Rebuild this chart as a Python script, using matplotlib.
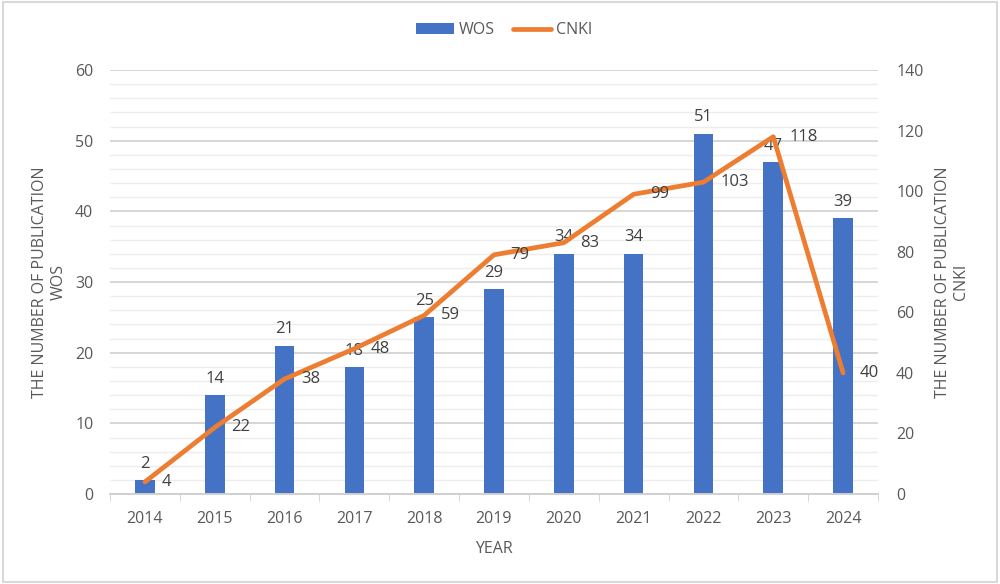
import numpy as np
import matplotlib.pyplot as plt
from matplotlib.patches import Rectangle

years = ['2014', '2015', '2016', '2017', '2018', '2019', '2020', '2021', '2022', '2023', '2024']
wos = [2, 14, 21, 18, 25, 29, 34, 34, 51, 47, 39]
cnki = [4, 22, 38, 48, 59, 79, 83, 99, 103, 118, 40]

blue = '#4472C4'
orange = '#ED7D31'
txt = '#595959'

plt.rcParams['font.family'] = ['Open Sans', 'DejaVu Sans']
plt.rcParams['font.size'] = 11.5

fig = plt.figure(figsize=(10, 5.84), dpi=100)
ax = fig.add_axes([0.110, 0.154, 0.768, 0.726])
ax2 = ax.twinx()

x = np.arange(len(years))
bars = ax.bar(x, wos, width=0.28, color=blue, label='WOS', zorder=2)
line, = ax2.plot(x, cnki, color=orange, linewidth=3.4, label='CNKI', zorder=3,
                 solid_capstyle='round', solid_joinstyle='round')

ax.set_ylim(0, 60)
ax2.set_ylim(0, 140)
ax.set_xlim(-0.5, len(years) - 0.5)
ax.set_yticks(np.arange(0, 61, 10))
ax2.set_yticks(np.arange(0, 141, 20))
ax.set_yticks(np.arange(0, 61, 2), minor=True)

ax.grid(axis='y', which='major', color='#D0D0D0', linewidth=1.2, zorder=0)
ax.grid(axis='y', which='minor', color='#EDEDED', linewidth=1.0, zorder=0)
ax.set_axisbelow(True)

ax.set_xticks(x)
ax.set_xticklabels(years)
ax.set_xticks(np.arange(-0.5, len(years), 1), minor=True)
ax.tick_params(axis='x', which='major', length=0, pad=12, colors=txt, labelsize=11.5)
ax.tick_params(axis='x', which='minor', length=5, color='#D0D0D0', direction='out')
ax.tick_params(axis='y', which='both', length=0, pad=12, colors=txt, labelsize=11.5)
ax2.tick_params(axis='y', length=0, pad=13, colors=txt, labelsize=11.5)

for a in (ax, ax2):
    for s in ('top', 'left', 'right'):
        a.spines[s].set_visible(False)
    a.spines['bottom'].set_color('#D0D0D0')
    a.spines['bottom'].set_linewidth(1.2)

ax.set_xlabel('YEAR', color=txt, fontsize=11.5, labelpad=10)
ax.set_ylabel('THE NUMBER OF PUBLICATION\nWOS', color=txt, fontsize=11.5, labelpad=6,
              linespacing=1.2)
ax2.set_ylabel('THE NUMBER OF PUBLICATION\nCNKI', color=txt, fontsize=11.5, labelpad=8,
               linespacing=1.2)

for xi, v in zip(x, wos):
    ax.annotate(str(v), (xi, v), xytext=(0, 6), textcoords='offset points',
                ha='center', va='bottom', color='#404040', fontsize=12)
for xi, v in zip(x, cnki):
    ax2.annotate(str(v), (xi, v), xytext=(12, 0), textcoords='offset points',
                 ha='left', va='center', color='#404040', fontsize=12, zorder=4)

fig.legend(handles=[bars, line], labels=['WOS', 'CNKI'], loc='center',
           bbox_to_anchor=(0.504, 0.948), ncol=2, frameon=False, fontsize=11.5,
           labelcolor=txt, handlelength=2.4, columnspacing=1.1, handletextpad=0.3)

fig.patches.append(Rectangle((0.003, 0.004), 0.994, 0.992, transform=fig.transFigure,
                             fill=False, edgecolor='#D9D9D9', linewidth=1.5))

fig.savefig('out.png', dpi=100)
